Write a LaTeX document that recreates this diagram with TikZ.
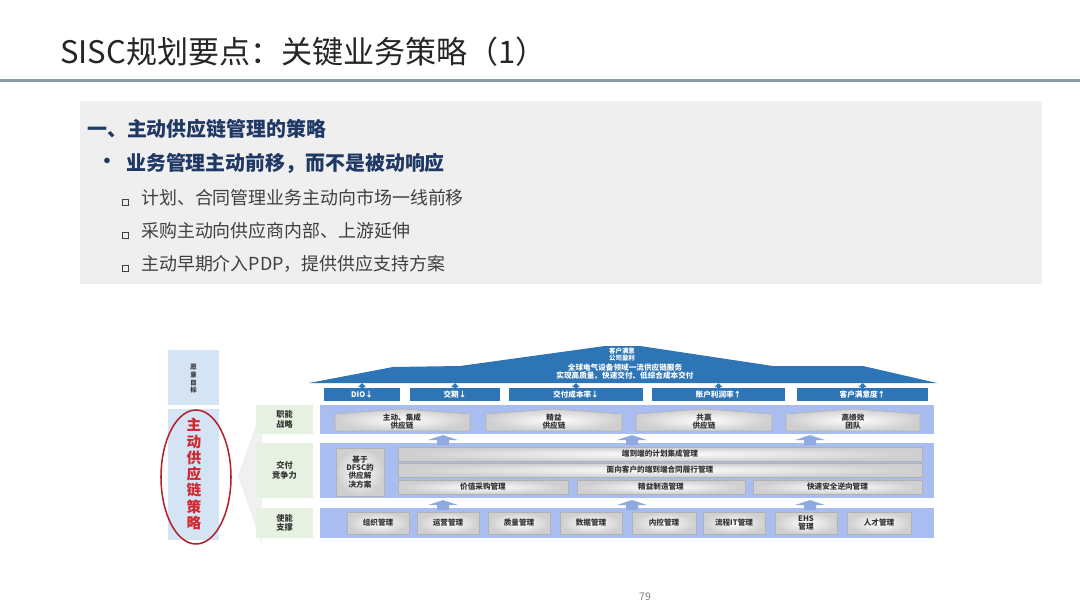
\documentclass[tikz,border=0pt]{standalone}
\usepackage{fontspec}
\setmainfont{Noto Sans CJK SC}
\usepackage{xcolor}
\usepackage{tikz}
\usetikzlibrary{positioning, calc}

\definecolor{titlegray}{HTML}{262626}
\definecolor{rulegray}{HTML}{8C99A6}
\definecolor{panelgray}{HTML}{EFEFEF}
\definecolor{headnavy}{HTML}{1F3864}
\definecolor{itemgray}{HTML}{404040}
\definecolor{roofblue}{HTML}{2E75B6}
\definecolor{rowblue}{HTML}{AABDF0}
\definecolor{arrowblue}{HTML}{8EAADF}
\definecolor{visionblue}{HTML}{D5E4F5}
\definecolor{labelgreen}{HTML}{E7F1E2}
\definecolor{strategyred}{HTML}{D0262E}
\definecolor{ellipsered}{HTML}{B3212A}

\tikzset{
  headtext/.style={font=\fontsize{17}{20}\bfseries\selectfont, text=headnavy, inner sep=0pt},
  itemtext/.style={font=\fontsize{15.3}{18}\selectfont, text=itemgray, inner sep=0pt},
  smalltext/.style={font=\fontsize{6.5}{7}\bfseries\selectfont, align=center, inner sep=0pt, text=black!80},
  kpitext/.style={smalltext, text=white},
  bevel/.style={inner color=white, outer color=gray!38, draw=gray!60, line width=0.5pt},
}

\begin{document}
\begin{tikzpicture}[x=0.03cm, y=-0.03cm]
  \useasboundingbox (0,0) rectangle (1080,608);
  \fill[white] (0,0) rectangle (1080,608);
  % title
  \node[anchor=west, inner sep=0pt, font=\fontsize{26.5}{31}\selectfont, text=titlegray] (title) at (60,52) {SISC规划要点：关键业务策略（1）};
  \fill[rulegray] (0,79) rectangle (1080,82);
  % text panel
  \fill[panelgray] (80,101) rectangle (1042,284);
  \node[headtext, anchor=west] (heading) at (87,129) {一、主动供应链管理的策略};
  \node[headtext] (dot) at (107,163) {•};
  \node[headtext, anchor=west] (point) at (126,163) {业务管理主动前移，而不是被动响应};
  \draw[itemgray, line width=0.6pt] (122,199) rectangle (128,205);
  \draw[itemgray, line width=0.6pt] (122,232) rectangle (128,238);
  \draw[itemgray, line width=0.6pt] (122,265) rectangle (128,271);
  \node[itemtext, anchor=west] (itemA) at (141,198) {计划、合同管理业务主动向市场一线前移};
  \node[itemtext, anchor=west] (itemB) at (141,231) {采购主动向供应商内部、上游延伸};
  \node[itemtext, anchor=west] (itemC) at (141,264) {主动早期介入PDP，提供供应支持方案};

  % left column
  \fill[visionblue] (168,350) rectangle (219,405);
  \node[smalltext, font=\fontsize{5.5}{6.5}\bfseries\selectfont] (vision) at (193.5,379) {愿\\景\\目\\标};
  \fill[visionblue] (168,409) rectangle (219,540);
  \node[align=center, inner sep=0pt, font=\fontsize{12.5}{13.9}\bfseries\selectfont, text=strategyred] (strategy) at (194,474) {主\\动\\供\\应\\链\\策\\略};
  \draw[ellipsered, line width=1.3pt] (196,477) ellipse [x radius=35, y radius=67];
  \fill[gray!12] (262,407) -- (238,476) -- (262,545) -- cycle;

  % row labels
  \fill[labelgreen] (256,405) rectangle (313,434);
  \fill[labelgreen] (256,443) rectangle (313,498);
  \fill[labelgreen] (256,508) rectangle (313,538);
  \node[smalltext, font=\fontsize{7}{8}\bfseries\selectfont] (labelA) at (284.5,419.5) {职能\\战略};
  \node[smalltext, font=\fontsize{7}{8}\bfseries\selectfont] (labelB) at (284.5,470.5) {交付\\竞争力};
  \node[smalltext, font=\fontsize{7}{8}\bfseries\selectfont] (labelC) at (284.5,523) {使能\\支撑};

  % roof
  \fill[roofblue] (309,383) -- (393,367) -- (460,366) -- (605,346) -- (640,346) -- (773,366) -- (863,366) -- (937,383) -- cycle;
  \node[kpitext, font=\fontsize{5.5}{6}\bfseries\selectfont] (roofA) at (622,351) {客户满意};
  \node[kpitext, font=\fontsize{5.5}{6}\bfseries\selectfont] (roofB) at (622,358) {公司盈利};
  \node[kpitext] (roofC) at (625,368) {全球电气设备领域一流供应链服务};
  \node[kpitext] (roofD) at (625,376) {实现高质量、快速交付、低综合成本交付};

  % kpi boxes
  \fill[roofblue] (324,388) rectangle (400,401);
  \fill[roofblue] (410,388) rectangle (500,401);
  \fill[roofblue] (509,388) rectangle (643,401);
  \fill[roofblue] (652,388) rectangle (785,401);
  \fill[roofblue] (797,388) rectangle (928,401);
  \fill[roofblue] (360.5,390) -- ++(0,-3) -- ++(-2.5,0) -- ++(4,-4) -- ++(4,4) -- ++(-2.5,0) -- ++(0,3) -- cycle;
  \fill[roofblue] (453.5,390) -- ++(0,-3) -- ++(-2.5,0) -- ++(4,-4) -- ++(4,4) -- ++(-2.5,0) -- ++(0,3) -- cycle;
  \fill[roofblue] (574.5,390) -- ++(0,-3) -- ++(-2.5,0) -- ++(4,-4) -- ++(4,4) -- ++(-2.5,0) -- ++(0,3) -- cycle;
  \fill[roofblue] (717,390) -- ++(0,-3) -- ++(-2.5,0) -- ++(4,-4) -- ++(4,4) -- ++(-2.5,0) -- ++(0,3) -- cycle;
  \fill[roofblue] (861,390) -- ++(0,-3) -- ++(-2.5,0) -- ++(4,-4) -- ++(4,4) -- ++(-2.5,0) -- ++(0,3) -- cycle;
  \node[kpitext] (kpiA) at (362,394.5) {DIO↓};
  \node[kpitext] (kpiB) at (455,394.5) {交期↓};
  \node[kpitext] (kpiC) at (576,394.5) {交付成本率↓};
  \node[kpitext] (kpiD) at (718.5,394.5) {账户利润率↑};
  \node[kpitext] (kpiE) at (862.5,394.5) {客户满意度↑};

  % row panels
  \fill[rowblue] (320,405) rectangle (934,434);
  \fill[rowblue] (320,443) rectangle (934,498);
  \fill[rowblue] (320,508) rectangle (934,538);
  \fill[arrowblue] (437,445) -- ++(0,-5) -- ++(-9,0) -- ++(15,-5) -- ++(15,5) -- ++(-9,0) -- ++(0,5) -- cycle;
  \fill[arrowblue] (626,445) -- ++(0,-5) -- ++(-9,0) -- ++(15,-5) -- ++(15,5) -- ++(-9,0) -- ++(0,5) -- cycle;
  \fill[arrowblue] (804,445) -- ++(0,-5) -- ++(-9,0) -- ++(15,-5) -- ++(15,5) -- ++(-9,0) -- ++(0,5) -- cycle;
  \fill[arrowblue] (437,510) -- ++(0,-5) -- ++(-9,0) -- ++(15,-5) -- ++(15,5) -- ++(-9,0) -- ++(0,5) -- cycle;
  \fill[arrowblue] (626,510) -- ++(0,-5) -- ++(-9,0) -- ++(15,-5) -- ++(15,5) -- ++(-9,0) -- ++(0,5) -- cycle;
  \fill[arrowblue] (804,510) -- ++(0,-5) -- ++(-9,0) -- ++(15,-5) -- ++(15,5) -- ++(-9,0) -- ++(0,5) -- cycle;

  % strategy row
  \shadedraw[bevel] (335,431) -- (335,414) -- (402,409) -- (470,414) -- (470,431) -- cycle;
  \shadedraw[bevel] (486,431) -- (486,414) -- (554,409) -- (622,414) -- (622,431) -- cycle;
  \shadedraw[bevel] (636,431) -- (636,414) -- (704,409) -- (772,414) -- (772,431) -- cycle;
  \shadedraw[bevel] (786,431) -- (786,414) -- (853,409) -- (920,414) -- (920,431) -- cycle;
  \node[smalltext] (stratA) at (402,421.5) {主动、集成\\供应链};
  \node[smalltext] (stratB) at (554,421.5) {精益\\供应链};
  \node[smalltext] (stratC) at (704,421.5) {共赢\\供应链};
  \node[smalltext] (stratD) at (853,421.5) {高绩效\\团队};

  % delivery row
  \shadedraw[bevel] (336,448) rectangle (384,496);
  \shadedraw[bevel] (398,447) rectangle (922,461);
  \shadedraw[bevel] (398,463) rectangle (922,477);
  \shadedraw[bevel] (398,480) rectangle (568,494);
  \shadedraw[bevel] (577,480) rectangle (745,494);
  \shadedraw[bevel] (753,480) rectangle (922,494);
  \node[smalltext] (dfsc) at (360,472) {基于\\DFSC的\\供应解\\决方案};
  \node[smalltext] (barA) at (660,454) {端到端的计划集成管理};
  \node[smalltext] (barB) at (660,470) {面向客户的端到端合同履行管理};
  \node[smalltext] (barC) at (483,487) {价值采购管理};
  \node[smalltext] (barD) at (661,487) {精益制造管理};
  \node[smalltext] (barE) at (837.5,487) {快速安全逆向管理};

  % enabling row
  \shadedraw[bevel] (347,512) rectangle (409,534);
  \shadedraw[bevel] (417,512) rectangle (479,534);
  \shadedraw[bevel] (488,512) rectangle (550,534);
  \shadedraw[bevel] (560,512) rectangle (622,534);
  \shadedraw[bevel] (632,512) rectangle (696,534);
  \shadedraw[bevel] (703,512) rectangle (765,534);
  \shadedraw[bevel] (775,512) rectangle (837,534);
  \shadedraw[bevel] (847,512) rectangle (911,534);
  \node[smalltext] (enableA) at (378,523) {组织管理};
  \node[smalltext] (enableB) at (448,523) {运营管理};
  \node[smalltext] (enableC) at (519,523) {质量管理};
  \node[smalltext] (enableD) at (591,523) {数据管理};
  \node[smalltext] (enableE) at (664,523) {内控管理};
  \node[smalltext] (enableF) at (734,523) {流程IT管理};
  \node[smalltext] (enableG) at (806,523) {EHS\\管理};
  \node[smalltext] (enableH) at (879,523) {人才管理};

  % page number
  \node[inner sep=0pt, font=\fontsize{9}{10}\selectfont, text=gray] (pagenum) at (645,597) {79};
\end{tikzpicture}
\end{document}
